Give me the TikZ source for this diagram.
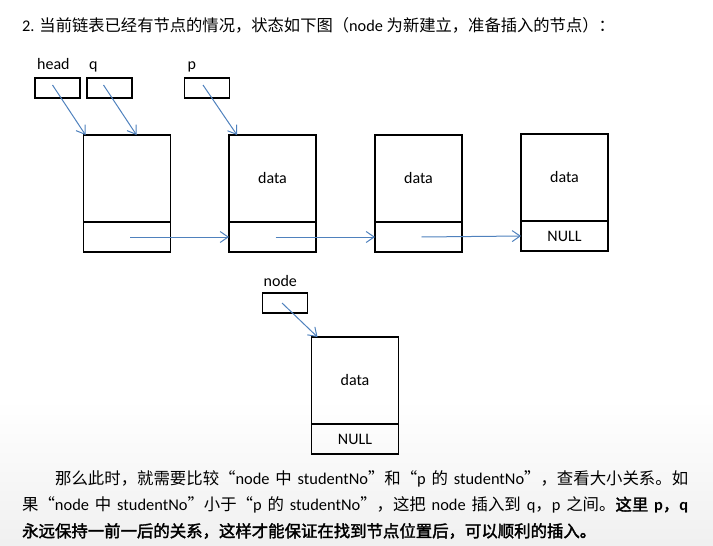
\documentclass[tikz,border=0pt]{standalone}
\usepackage{fontspec}
\setmainfont{Carlito}
\newfontfamily\cjk[AutoFakeBold=2]{Noto Sans CJK SC}
\usepackage{tikz}
\usetikzlibrary{positioning}
\usetikzlibrary{arrows.meta}
\definecolor{linkblue}{RGB}{79,129,189}
\newcommand{\zh}[1]{{\cjk #1}}
\XeTeXlinebreaklocale "zh"
\XeTeXlinebreakskip=0pt plus 2pt
\tikzset{
  databox/.style={draw, line width=1.3pt, minimum width=87pt, minimum height=87pt, outer sep=0pt, font=\fontsize{16}{19}\selectfont},
  nextbox/.style={draw, line width=1.3pt, minimum width=87pt, minimum height=30pt, outer sep=0pt, font=\fontsize{16}{19}\selectfont},
  ptrbox/.style={draw, line width=1.3pt, minimum width=45pt, minimum height=20pt, outer sep=0pt},
  lbl/.style={inner sep=0pt, font=\fontsize{16}{19}\selectfont},
  link/.style={draw=linkblue, line width=1pt, -{Straight Barb[length=8pt,width=11pt]}},
  txt/.style={anchor=west, inner sep=0pt, font=\fontsize{16.4}{20}\selectfont}
}

\begin{document}
\begin{tikzpicture}[x=1pt,y=-1pt]
\useasboundingbox (0,0) rectangle (713,546);
\shade[top color=white, bottom color=black!6] (0,400) rectangle (713,546);

\node[txt, font=\fontsize{16.3}{19}\selectfont] (title) at (22,25) {2. \zh{当前链表已经有节点的情况，状态如下图（}node \zh{为新建立，准备插入的节点）：}};

% list nodes
\node[databox] (n1) at (127,178.5) {};
\node[nextbox, below=0pt of n1] (n1next) {};
\node[databox] (n2) at (272.5,178.5) {data};
\node[nextbox, below=0pt of n2] (n2next) {};
\node[databox] (n3) at (418.5,178.5) {data};
\node[nextbox, below=0pt of n3] (n3next) {};
\node[databox] (n4) at (564.5,177.5) {data};
\node[nextbox, below=0pt of n4] (n4next) {NULL};

% pointers
\node[ptrbox] (hp) at (57.5,88) {};
\node[ptrbox] (qp) at (109.5,88) {};
\node[ptrbox] (pp) at (207,88) {};
\node[lbl, anchor=base west] (hlbl) at ([xshift=2pt,yshift=9pt]hp.north west) {head};
\node[lbl, anchor=base west] (qlbl) at ([xshift=2pt,yshift=9pt]qp.north west) {q};
\node[lbl, anchor=base west] (plbl) at ([xshift=3pt,yshift=9pt]pp.north west) {p};

\draw[link] ([xshift=-5pt,yshift=3pt]hp.center) -- ([xshift=2pt]n1.north west);
\draw[link] ([xshift=-6pt,yshift=3pt]qp.center) -- ([xshift=53pt]n1.north west);
\draw[link] ([xshift=-4pt,yshift=3pt]pp.center) -- ([xshift=8pt]n2.north west);

\draw[link] ([xshift=3pt]n1next.center) -- (n2next.west);
\draw[link] ([xshift=3pt]n2next.center) -- (n3next.west);
\draw[link] ([xshift=3pt]n3next.center) -- (n4next.west);

% new node
\node[ptrbox] (np) at (285,303) {};
\node[lbl, anchor=base west] (nlbl) at ([xshift=1pt,yshift=7pt]np.north west) {node};
\node[databox] (nn) at (355,380.5) {data};
\node[nextbox, below=0pt of nn] (nnnext) {NULL};
\draw[link] ([xshift=-3pt]np.center) -- ([xshift=6pt]nn.north west);

% text below
\node[txt] (line1) at (55,479) {\hbox to 633pt{\zh{那么此时，就需要比较“}node \zh{中} studentNo\zh{”和“}p \zh{的} studentNo\zh{”，查看大小关系。如}}};
\node[txt] (line2) at (22,505) {\hbox to 666pt{\zh{果“}node \zh{中} studentNo\zh{”小于“}p \zh{的} studentNo\zh{”，这把} node \zh{插入到} q\zh{，}p \zh{之间。}\textbf{\zh{这里} p\zh{，}q}}};
\node[txt] (line3) at (22,531) {\hbox to 578pt{\textbf{\zh{永远保持一前一后的关系，这样才能保证在找到节点位置后，可以顺利的插入。}}}};
\end{tikzpicture}
\end{document}
